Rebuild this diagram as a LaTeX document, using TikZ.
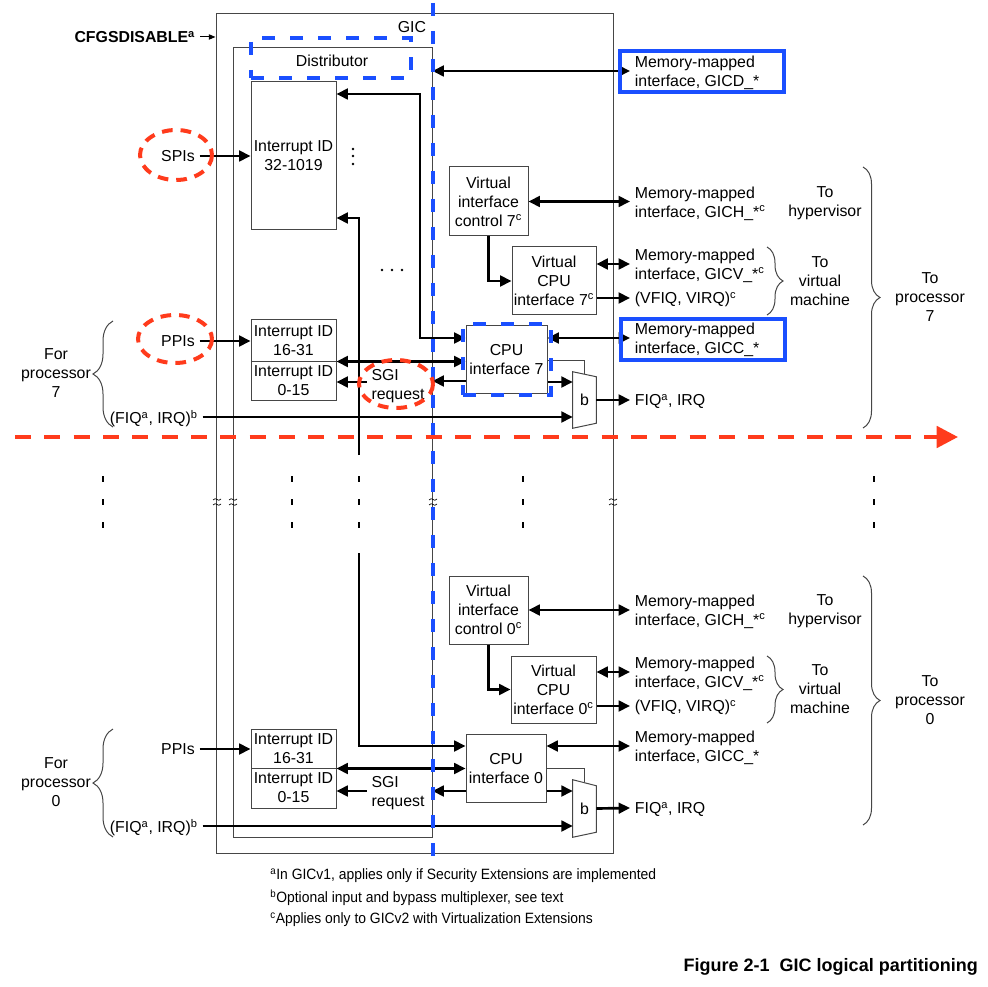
\documentclass[tikz,border=0pt]{standalone}
\usepackage{fontspec}
\setmainfont{Liberation Sans}
\newfontfamily\notefont[FakeStretch=0.93]{Liberation Sans}
\usetikzlibrary{arrows.meta,fit,calc,decorations.pathreplacing}
\definecolor{gicblue}{RGB}{26,79,255}
\definecolor{gicred}{RGB}{255,59,28}
\definecolor{gicgray}{RGB}{70,70,70}

\begin{document}
\fontsize{11.9}{14.2}\selectfont
\begin{tikzpicture}[x=0.75pt,y=0.75pt,yscale=-1,xscale=1,
  blk/.style={draw=gicgray,line width=0.75pt,inner sep=0pt,align=center,text depth=0pt},
  wh/.style 2 args={minimum width=#1*0.75pt,minimum height=#2*0.75pt},
  txt/.style={inner sep=3.5pt,align=center,text depth=0pt},
  mmtxt/.style={anchor=west,inner sep=3.5pt,align=left,text depth=0pt},
  sig/.style={line width=2pt,-{Triangle[length=8.5pt,width=8pt]}},
  bus/.style={line width=2pt,{Triangle[length=8.5pt,width=8pt]}-{Triangle[length=8.5pt,width=8pt]}},
  sel/.style={draw=gicgray,line width=0.75pt},
  brc/.style={draw=gicgray,line width=0.75pt,decorate,decoration={brace,amplitude=#1}},
  bluedash/.style={draw=gicblue,line width=3pt,dash pattern=on 10pt off 11pt},
  bluebox/.style={draw=gicblue,line width=3pt},
  redring/.style={draw=gicred,line width=3pt,dash pattern=on 8pt off 6pt},
  muxbox/.style={inner sep=0pt,minimum width=17.25pt,minimum height=42pt,text depth=0pt}
]
%set diagram left start at 0, and has height of 987
\useasboundingbox (0,0) rectangle (988,987);

%Shape: Rectangle (GIC and Distributor)
\node[blk,fit={(216,14) (613,853)}] (gic) {};
\node[blk,fit={(233,48) (432,837)}] (dist) {};
% Text Node
\node[txt,anchor=east] (giclbl) at (431,27) {GIC};
\node[txt] (distlbl) at (332,61) {Distributor};
\node[txt,anchor=east,font=\bfseries] (cfg) at (200,37) {CFGSDISABLE\textsuperscript{a}};
\draw[line width=0.75pt,-{Triangle[length=5pt,width=4pt]}] (cfg.east) -- (cfg.east -| gic.west);

%Shape: Rectangle (processor 7)
\node[blk,wh={85}{148}] (spiid) at (293.5,156) {Interrupt ID\\32-1019};
\node[blk,wh={85}{41}] (ppiid7) at (293.5,340.5) {Interrupt ID\\16-31};
\node[blk,wh={85}{39}] (sgiid7) at (293.5,380.5) {Interrupt ID\\0-15};
\node[blk,wh={81}{67}] (cpu7) at (506.5,359.5) {CPU\\interface 7};
\node[blk,wh={79}{69}] (vic7) at (488.5,201.5) {Virtual\\interface\\control 7\textsuperscript{c}};
\node[blk,wh={84}{68}] (vcpu7) at (554,281) {Virtual\\CPU\\interface 7\textsuperscript{c}};
\node[muxbox] (mux7) at (584.5,400) {b};
\draw[sel] (mux7.north west) -- ($(mux7.north east)+(0,5)$) -- ($(mux7.south east)+(0,-5)$) -- (mux7.south west) -- cycle;

% Text Node
\node[txt] (spi) at (178,156) {SPIs};
\node[txt] (ppi7) at (178,341) {PPIs};
\node[txt,align=left] (sgi7) at (398,384) {SGI\\request};
\node[txt] (for7) at (56,373) {For\\processor\\7};
\node[txt,anchor=west] (fiqin7) at (105,417) {(FIQ\textsuperscript{a}, IRQ)\textsuperscript{b}};
\node[mmtxt] (gicd) at (630,71) {Memory-mapped\\interface, GICD\_*};
\node[mmtxt] (gich7) at (630,202) {Memory-mapped\\interface, GICH\_*\textsuperscript{c}};
\node[mmtxt] (gicv7) at (630,264) {Memory-mapped\\interface, GICV\_*\textsuperscript{c}};
\node[mmtxt] (vfiq7) at (630,298) {(VFIQ, VIRQ)\textsuperscript{c}};
\node[mmtxt] (gicc7) at (630,338) {Memory-mapped\\interface, GICC\_*};
\node[mmtxt] (fiqout7) at (630,400) {FIQ\textsuperscript{a}, IRQ};
\node[txt] (hyp7) at (825,202) {To\\hypervisor};
\node[txt] (vm7) at (820,281) {To\\virtual\\machine};
\node[txt] (proc7) at (930,297) {To\\processor\\7};

%Straight Lines (processor 7)
\draw[sig] (spi) -- (spi -| spiid.west);
\draw[sig] (ppi7) -- (ppi7 -| ppiid7.west);
\draw[bus] (spiid.east |- 0,94) -| (420,338) -- (cpu7.west |- 0,338);
\coordinate (drop7) at (359,455);
\draw[sig] (drop7) |- (spiid.east |- 0,218);
\draw[bus] (ppiid7.south east) -- (cpu7.west |- ppiid7.south east);
\draw[sig] (cpu7.west |- 0,381) -- (dist.east |- 0,381);
\draw[sig] (sgi7.west |- 0,382) -- (sgiid7.east |- 0,382);
\draw[sig] (cpu7.east |- 0,382) -- (mux7.west |- 0,382);
\draw[sig] (fiqin7) -- (fiqin7 -| mux7.west);
\draw[sel] (cpu7.east |- 0,360) -| ($(mux7.north)+(0,2.5)$);
\draw[sig] (mux7.east) -- (fiqout7.west);
\draw[bus] (dist.east |- gicd.west) -- (gicd.west);
\draw[bus] (vic7.east) -- (vic7.east -| gich7.west);
\draw[sig] (vic7.south) |- (vcpu7.west);
\draw[bus] (vcpu7.east |- gicv7.west) -- (gicv7.west);
\draw[sig] (vcpu7.east |- vfiq7.west) -- (vfiq7.west);
\draw[bus] (cpu7.east |- gicc7.west) -- (gicc7.west);
\draw[brc=15pt] (113,427) -- (113,321);
\draw[brc=12pt] (767,247) -- (767,315);
\draw[brc=12.75pt] (863,167) -- (863,428);

%Shape: Rectangle (processor 0)
\node[blk,wh={85}{39}] (ppiid0) at (293.5,748.5) {Interrupt ID\\16-31};
\node[blk,wh={85}{40}] (sgiid0) at (293.5,788) {Interrupt ID\\0-15};
\node[blk,wh={80}{68}] (cpu0) at (506,768) {CPU\\interface 0};
\node[blk,wh={79}{68}] (vic0) at (488.5,610) {Virtual\\interface\\control 0\textsuperscript{c}};
\node[blk,wh={85}{67}] (vcpu0) at (553.5,689.5) {Virtual\\CPU\\interface 0\textsuperscript{c}};
\node[muxbox,minimum height=42.75pt] (mux0) at (584.5,808.5) {b};
\draw[sel] (mux0.north west) -- ($(mux0.north east)+(0,6)$) -- ($(mux0.south east)+(0,-5)$) -- (mux0.south west) -- cycle;

% Text Node
\node[txt] (ppi0) at (178,749) {PPIs};
\node[txt,align=left] (sgi0) at (398,791) {SGI\\request};
\node[txt] (for0) at (56,782) {For\\processor\\0};
\node[txt,anchor=west] (fiqin0) at (105,826) {(FIQ\textsuperscript{a}, IRQ)\textsuperscript{b}};
\node[mmtxt] (gich0) at (630,610) {Memory-mapped\\interface, GICH\_*\textsuperscript{c}};
\node[mmtxt] (gicv0) at (630,672) {Memory-mapped\\interface, GICV\_*\textsuperscript{c}};
\node[mmtxt] (vfiq0) at (630,706) {(VFIQ, VIRQ)\textsuperscript{c}};
\node[mmtxt] (gicc0) at (630,746) {Memory-mapped\\interface, GICC\_*};
\node[mmtxt] (fiqout0) at (630,808) {FIQ\textsuperscript{a}, IRQ};
\node[txt] (hyp0) at (825,610) {To\\hypervisor};
\node[txt] (vm0) at (820,689) {To\\virtual\\machine};
\node[txt] (proc0) at (930,700) {To\\processor\\0};

%Straight Lines (processor 0)
\draw[sig] (ppi0) -- (ppi0 -| ppiid0.west);
\coordinate (rise0) at (359,553);
\draw[sig] (rise0) |- (cpu0.west |- 0,746);
\draw[bus] (ppiid0.south east) -- (cpu0.west |- ppiid0.south east);
\draw[sig] (cpu0.west |- 0,791) -- (dist.east |- 0,791);
\draw[sig] (sgi0.west |- 0,791) -- (sgiid0.east |- 0,791);
\draw[sig] (cpu0.east |- 0,791) -- (mux0.west |- 0,791);
\draw[sig] (fiqin0) -- (fiqin0 -| mux0.west);
\draw[sel] (cpu0.east |- 0,768) -| ($(mux0.north)+(0,2.5)$);
\draw[sig] (mux0.east) -- (fiqout0.west);
\draw[bus] (vic0.east) -- (vic0.east -| gich0.west);
\draw[sig] (vic0.south) |- (vcpu0.west);
\draw[bus] (vcpu0.east |- gicv0.west) -- (gicv0.west);
\draw[sig] (vcpu0.east |- vfiq0.west) -- (vfiq0.west);
\draw[bus] (cpu0.east |- gicc0.west) -- (gicc0.west);
\draw[brc=15pt] (113,837) -- (113,729);
\draw[brc=12pt] (767,656) -- (767,723);
\draw[brc=12.75pt] (863,576) -- (863,825);

%Dots and breaks
\foreach \yy in {149,156,164} \fill (353,\yy) circle [radius=1.4];
\foreach \xx in {382,392,402} \fill (\xx,270) circle [radius=1.4];
\foreach \xx in {103,292,359,523,874}
  \foreach \yy in {479,502,525}
    \fill (\xx-1.2,\yy-3) rectangle (\xx+1.2,\yy+3);
\foreach \xx in {217,233,433,613}{
  \draw[line width=0.5pt] (\xx-4,500) .. controls (\xx-1,496) and (\xx+1,503) .. (\xx+4,499);
  \draw[line width=0.5pt] (\xx-4,505) .. controls (\xx-1,501) and (\xx+1,508) .. (\xx+4,504);
}

%Highlights
\coordinate (bluetop) at (433,3);
\coordinate (bluebot) at (433,862);
\draw[bluedash] (bluetop) -- (bluebot);
\node[bluedash,inner sep=0pt,fit={(251,38) (411,78)}] (distmark) {};
\node[bluedash,inner sep=0pt,fit={(463,324) (551,395)}] (cpu7mark) {};
\node[bluebox,inner sep=0pt,fit={(620,51) (784,92)}] (gicdmark) {};
\node[bluebox,inner sep=0pt,fit={(621,319) (785,360)}] (gicc7mark) {};
\draw[redring] ($(spi)+(-2,-1)$) ellipse [x radius=36,y radius=25];
\draw[redring] ($(ppi7)+(-3,-2)$) ellipse [x radius=37,y radius=24];
\draw[redring] ($(sgi7)+(-2,0)$) ellipse [x radius=37,y radius=24];
\coordinate (cutl) at (15,437);
\coordinate (cutr) at (958,437);
\draw[gicred,line width=3pt,dash pattern=on 12pt off 10pt,-{Triangle[length=16pt,width=16pt]}] (cutl) -- (cutr);

% Text Node (notes)
\node[anchor=west,inner sep=0pt,font=\notefont\fontsize{11.2}{13}\selectfont] (fna) at (270,876) {\textsuperscript{a}In GICv1, applies only if Security Extensions are implemented};
\node[anchor=west,inner sep=0pt,font=\notefont\fontsize{11.2}{13}\selectfont] (fnb) at (270,898) {\textsuperscript{b}Optional input and bypass multiplexer, see text};
\node[anchor=west,inner sep=0pt,font=\notefont\fontsize{11.2}{13}\selectfont] (fnc) at (270,920) {\textsuperscript{c}Applies only to GICv2 with Virtualization Extensions};
\node[anchor=east,inner sep=0pt,font=\fontsize{13.5}{16}\selectfont\bfseries] (cap) at (978,967) {Figure 2-1~~GIC logical partitioning};

\end{tikzpicture}
\end{document}
